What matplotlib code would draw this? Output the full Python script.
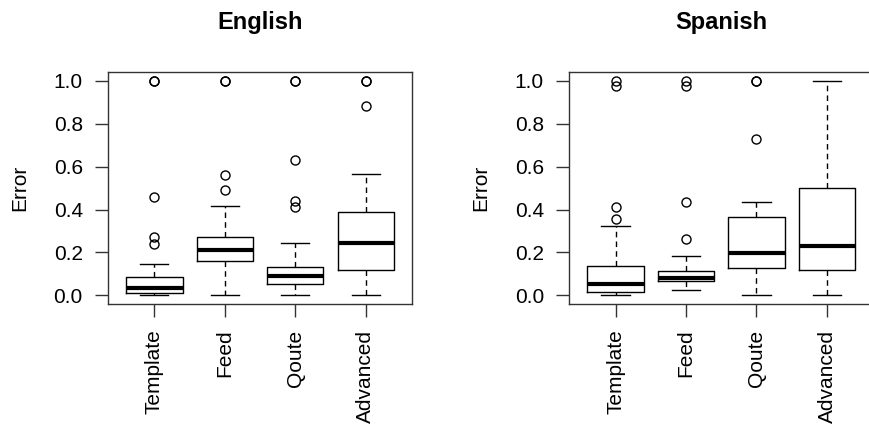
import matplotlib
matplotlib.use("Agg")
import matplotlib.pyplot as plt

plt.rcParams['font.family'] = ['Liberation Sans', 'DejaVu Sans']

categories = ['Template', 'Feed', 'Qoute', 'Advanced']

# English: box stats
en_q1 = [0.010, 0.160, 0.054, 0.118]
en_med = [0.036, 0.211, 0.092, 0.245]
en_q3 = [0.084, 0.273, 0.134, 0.387]
en_lo = [0.0, 0.0, 0.0, 0.0]
en_hi = [0.146, 0.415, 0.244, 0.567]
en_fliers = [[0.24, 0.27, 0.46, 1.0, 1.0],
             [0.49, 0.56, 1.0, 1.0],
             [0.41, 0.44, 0.63, 1.0, 1.0],
             [0.88, 1.0, 1.0]]

# Spanish
es_q1 = [0.014, 0.068, 0.129, 0.120]
es_med = [0.054, 0.079, 0.197, 0.231]
es_q3 = [0.137, 0.116, 0.365, 0.500]
es_lo = [0.0, 0.026, 0.0, 0.0]
es_hi = [0.325, 0.182, 0.435, 1.0]
es_fliers = [[0.357, 0.411, 0.975, 1.0],
             [0.261, 0.433, 0.975, 1.0],
             [0.728, 1.0, 1.0],
             []]

yticks = [0.0, 0.2, 0.4, 0.6, 0.8, 1.0]


def make_stats(q1, med, q3, lo, hi, fliers):
    stats = []
    for i, name in enumerate(categories):
        stats.append(dict(label=name, q1=q1[i], med=med[i], q3=q3[i],
                          whislo=lo[i], whishi=hi[i], fliers=fliers[i]))
    return stats


fig = plt.figure(figsize=(8.7, 4.24), dpi=100)
ax1 = fig.add_axes([0.1239, 0.283, 0.35, 0.547])
ax2 = fig.add_axes([0.654, 0.283, 0.35, 0.547])

panels = [(ax1, 'English', make_stats(en_q1, en_med, en_q3, en_lo, en_hi, en_fliers)),
          (ax2, 'Spanish', make_stats(es_q1, es_med, es_q3, es_lo, es_hi, es_fliers))]

for ax, title, stats in panels:
    ax.bxp(stats, widths=0.8, capwidths=0.4,
           boxprops=dict(color='black', linewidth=1.0),
           medianprops=dict(color='black', linewidth=3.0, solid_capstyle='butt'),
           whiskerprops=dict(color='black', linewidth=1.0, linestyle=(0, (4, 3))),
           capprops=dict(color='black', linewidth=1.0),
           flierprops=dict(marker='o', markersize=6.5, markerfacecolor='none',
                           markeredgecolor='black', markeredgewidth=1.0))
    ax.set_xlim(0.34, 4.66)
    ax.set_ylim(-0.04, 1.04)
    ax.set_yticks(yticks)
    ax.set_yticklabels([f'{v:.1f}' for v in yticks])
    ax.set_xticks(range(1, 5))
    ax.set_xticklabels(categories, rotation=90)
    ax.tick_params(axis='both', length=9.5, width=1.0, labelsize=15, color='#333333')
    ax.tick_params(axis='y', pad=8.5)
    ax.tick_params(axis='x', pad=9)
    for sp in ax.spines.values():
        sp.set_linewidth(1.0)
        sp.set_color('#333333')
    ax.set_title(title, fontsize=17, fontweight='bold', pad=31)
    ax.set_ylabel('Error', fontsize=15)
    ax.yaxis.set_label_coords(-0.257, 0.5)

fig.savefig('out.png', dpi=100)
